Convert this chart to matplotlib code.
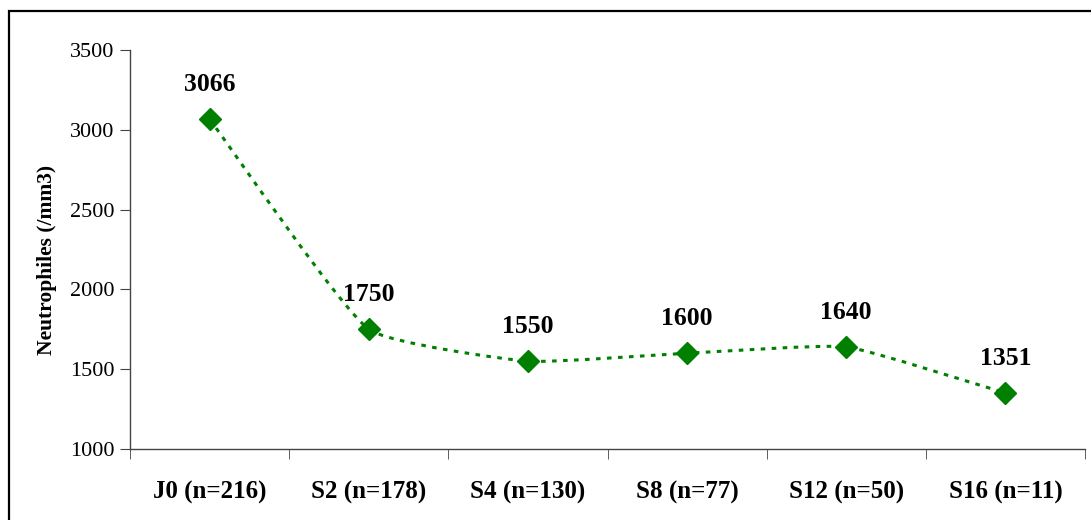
import numpy as np
import matplotlib.pyplot as plt
from matplotlib.path import Path
from matplotlib.patches import PathPatch, Rectangle

plt.rcParams['font.family'] = ['Liberation Serif', 'DejaVu Serif']

categories = ['J0 (n=216)', 'S2 (n=178)', 'S4 (n=130)', 'S8 (n=77)', 'S12 (n=50)', 'S16 (n=11)']
neutrophiles = [3066, 1750, 1550, 1600, 1640, 1351]
yticks = [1000, 1500, 2000, 2500, 3000, 3500]

green = '#008000'

fig = plt.figure(figsize=(10.91, 5.2), dpi=100)
ax = fig.add_axes([130 / 1091, 1 - 449 / 520, 955 / 1091, 399 / 520])

x = np.arange(len(categories))
ax.set_xlim(-0.5, len(categories) - 0.5)
ax.set_ylim(1000, 3500)

# smoothed line: cubic bezier segments in display space, tangent length
# scaled by the segment length so long drops stay nearly straight
fig.canvas.draw()
pts = ax.transData.transform(np.column_stack([x, neutrophiles]))
k = 0.14
def tangent(i):
    a = pts[max(i - 1, 0)]
    b = pts[min(i + 1, len(pts) - 1)]
    d = b - a
    return d / np.hypot(*d)

verts = [pts[0]]
codes = [Path.MOVETO]
for i in range(len(pts) - 1):
    p1, p2 = pts[i], pts[i + 1]
    seg = np.hypot(*(p2 - p1))
    c1 = p1 + tangent(i) * seg * k
    c2 = p2 - tangent(i + 1) * seg * k
    verts += [c1, c2, p2]
    codes += [Path.CURVE4] * 3
curve = Path(ax.transData.inverted().transform(np.array(verts)), codes)
ax.add_patch(PathPatch(curve, facecolor='none', edgecolor=green, lw=2.2,
                       linestyle=(0, (1.5, 2.1)), capstyle='butt'))

ax.plot(x, neutrophiles, linestyle='none', marker='D', markersize=11,
        color=green, zorder=3)

for xi, v in zip(x, neutrophiles):
    ax.annotate(str(v), (xi, v), xytext=(0, 25), textcoords='offset points',
                ha='center', va='center', fontsize=18.5, fontweight='bold')

ax.set_yticks(yticks)
ax.set_yticklabels([str(v) for v in yticks], fontsize=16)
ax.set_xticks(x)
ax.set_xticklabels(categories, fontsize=18, fontweight='bold')
ax.set_xticks(np.arange(-0.5, len(categories)), minor=True)
ax.tick_params(axis='x', which='major', length=0, pad=23)
ax.tick_params(axis='x', which='minor', length=7, direction='out', color='#444444')
ax.tick_params(axis='y', length=7, direction='out', color='#444444', pad=4)

ax.spines['top'].set_visible(False)
ax.spines['right'].set_visible(False)
for s in ('left', 'bottom'):
    ax.spines[s].set_color('#444444')
    ax.spines[s].set_linewidth(1.0)

ax.set_ylabel('Neutrophiles (/mm3)', fontsize=15.5, fontweight='bold')
ax.yaxis.set_label_coords(-0.076, 0.474)

# outer frame around the chart area
fig.patches.append(Rectangle((9 / 1091, -0.1), 1.2, 1 - 11 / 520 + 0.1,
                             transform=fig.transFigure, fill=False,
                             edgecolor='black', lw=1.6))

fig.savefig('out.png', dpi=100)
